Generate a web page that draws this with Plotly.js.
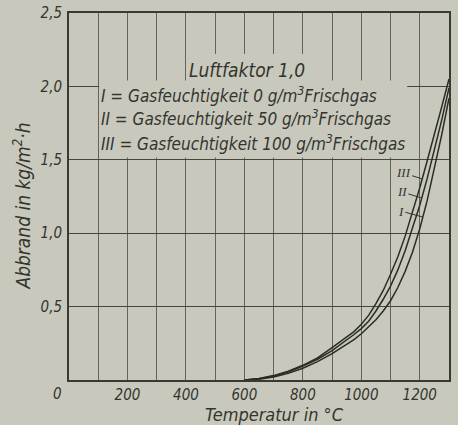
<!DOCTYPE html>
<html>
<head>
<meta charset="utf-8">
<script src="https://cdn.plot.ly/plotly-3.0.1.min.js"></script>
<style>
html,body{margin:0;padding:0;background:#c8c9bc;}
#chart{width:458px;height:425px;}
</style>
</head>
<body>
<div id="chart"></div>
<script>
// ---- data ----
const temperature = [600, 650, 700, 750, 800, 850, 900, 950, 975, 1000, 1025, 1050, 1075, 1100, 1125, 1150, 1175, 1200, 1225, 1250, 1275, 1300];
const seriesI   = [0, 0.005, 0.02, 0.045, 0.08, 0.125, 0.18, 0.24, 0.275, 0.315, 0.36, 0.41, 0.47, 0.54, 0.63, 0.74, 0.87, 1.03, 1.22, 1.44, 1.67, 1.92];
const seriesII  = [0, 0.008, 0.027, 0.055, 0.095, 0.14, 0.20, 0.27, 0.31, 0.35, 0.40, 0.47, 0.55, 0.64, 0.75, 0.88, 1.03, 1.19, 1.37, 1.56, 1.77, 1.99];
const seriesIII = [0, 0.01, 0.03, 0.06, 0.10, 0.15, 0.22, 0.29, 0.33, 0.38, 0.44, 0.52, 0.61, 0.72, 0.84, 0.98, 1.14, 1.31, 1.49, 1.67, 1.86, 2.05];
const curveNames = ['I', 'II', 'III'];
const legendLines = [
  'I = Gasfeuchtigkeit 0 g/m<sup>3</sup>Frischgas',
  'II = Gasfeuchtigkeit 50 g/m<sup>3</sup>Frischgas',
  'III = Gasfeuchtigkeit 100 g/m<sup>3</sup>Frischgas'
];
const xTickVals = [100, 200, 300, 400, 500, 600, 700, 800, 900, 1000, 1100, 1200];
const xTickText = ['', '200', '', '400', '', '600', '', '800', '', '1000', '', '1200'];
const yTickVals = [0.5, 1.0, 1.5, 2.0, 2.5];
const yTickText = ['0,5', '1,0', '1,5', '2,0', '2,5'];

const BG = '#c8c9bc';
const INK = '#34342f';
const FONT = '"Liberation Sans Narrow", "DejaVu Sans Condensed", sans-serif';

const allSeries = [seriesI, seriesII, seriesIII];
const traces = allSeries.map((ys, i) => ({
  x: temperature, y: ys, type: 'scatter', mode: 'lines', name: curveNames[i],
  line: {color: '#2c2c27', width: 1.5, shape: 'linear'},
  hoverinfo: 'skip'
}));

// find T on a series for a given value (for label leader anchors)
function tAt(ys, v) {
  for (let i = 1; i < ys.length; i++) {
    if (ys[i] >= v) {
      const f = (v - ys[i-1]) / (ys[i] - ys[i-1]);
      return temperature[i-1] + f * (temperature[i] - temperature[i-1]);
    }
  }
  return temperature[temperature.length-1];
}

const annotations = [];
annotations.push({xref:'x', yref:'y', x: 610, y: 2.11, text:'<i>Luftfaktor 1,0</i>', showarrow:false,
  xanchor:'center', yanchor:'middle', font:{family:FONT, size:19, color:INK}});
const legendY = [1.94, 1.783, 1.614];
legendLines.forEach((t, i) => annotations.push({xref:'x', yref:'y', x: 103, y: legendY[i], text:'<i>'+t+'</i>',
  showarrow:false, xanchor:'left', yanchor:'middle', font:{family:FONT, size:17, color:INK}}));

// curve labels with leader lines
const labelVals = [1.11, 1.24, 1.37];
const labelAx = [-22, -20, -19];
const labelAy = [-6, -6, -6];
[2, 1, 0].forEach(i => {
  annotations.push({xref:'x', yref:'y', x: tAt(allSeries[i], labelVals[i]), y: labelVals[i],
    text:'<i>'+curveNames[i]+'</i>', showarrow:true, arrowhead:0, arrowwidth:1, arrowcolor:INK,
    ax: labelAx[i], ay: labelAy[i], standoff:0,
    font:{family:'"Liberation Serif", serif', size:13, color:INK}});
});

// corner zero, axis titles
annotations.push({xref:'paper', yref:'paper', x:-0.03, y:-0.038, text:'<i>0</i>', showarrow:false,
  xanchor:'center', yanchor:'middle', font:{family:FONT, size:15, color:INK}});
annotations.push({xref:'paper', yref:'paper', x:0.54, y:-0.095, text:'<i>Temperatur in °C</i>', showarrow:false,
  xanchor:'center', yanchor:'middle', font:{family:FONT, size:18, color:INK}});
annotations.push({xref:'paper', yref:'paper', x:-0.124, y:0.475, text:'<i>Abbrand in kg/m<sup>2</sup>·h</i>', showarrow:false,
  textangle:-90, xanchor:'center', yanchor:'middle', font:{family:FONT, size:19, color:INK}});

const shapes = [
  // blank box behind the key text (covers grid)
  {type:'rect', xref:'x', yref:'y', x0:103, x1:1157, y0:1.515, y1:2.04, fillcolor:BG, line:{width:0}, layer:'between'},
  {type:'rect', xref:'x', yref:'y', x0:420, x1:880, y0:2.03, y1:2.22, fillcolor:BG, line:{width:0}, layer:'between'}
];

const layout = {
  width: 458, height: 425,
  margin: {l: 69, r: 9, t: 13, b: 45},
  paper_bgcolor: BG, plot_bgcolor: BG,
  showlegend: false,
  font: {family: FONT, color: INK},
  xaxis: {range: [0, 1300], tickmode: 'array', tickvals: xTickVals, ticktext: xTickText.map(t => t ? '<i>'+t+'</i>' : ''),
    showgrid: true, gridcolor: '#64645c', gridwidth: 1, zeroline: false,
    showline: true, mirror: true, linecolor: '#3a3a33', linewidth: 2, ticks: '',
    tickfont: {family: FONT, size: 15, color: INK}, ticklabelstandoff: 0, fixedrange: true},
  yaxis: {range: [0, 2.5], tickmode: 'array', tickvals: yTickVals, ticktext: yTickText.map(t => '<i>'+t+'</i>'),
    showgrid: true, gridcolor: '#46463f', gridwidth: 1.2, zeroline: false,
    showline: true, mirror: true, linecolor: '#3a3a33', linewidth: 2, ticks: '',
    tickfont: {family: FONT, size: 15, color: INK}, ticklabelstandoff: 2, fixedrange: true},
  annotations: annotations,
  shapes: shapes
};

Plotly.newPlot('chart', traces, layout, {staticPlot: true, displayModeBar: false});
</script>
</body>
</html>
